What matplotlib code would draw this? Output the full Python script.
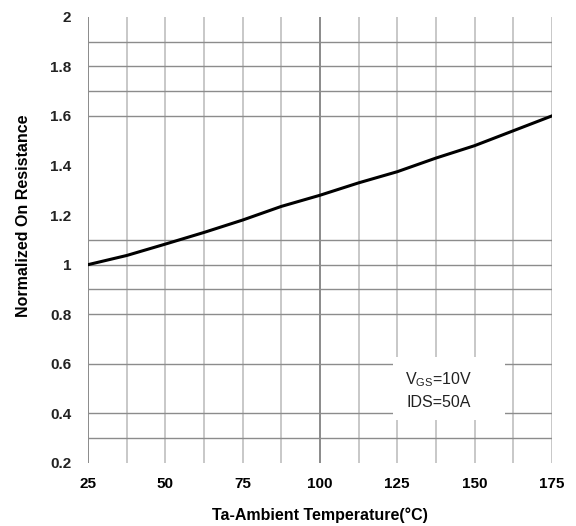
import matplotlib
matplotlib.use("Agg")
import matplotlib.pyplot as plt
from matplotlib.patches import Rectangle

temperature = [25, 37.5, 50, 62.5, 75, 87.5, 100, 112.5, 125, 137.5, 150, 162.5, 175]
norm_ron = [1.0, 1.037, 1.083, 1.13, 1.18, 1.235, 1.28, 1.33, 1.375, 1.43, 1.48, 1.54, 1.6]

x_ticks = [25, 50, 75, 100, 125, 150, 175]
y_ticks = [0.2, 0.4, 0.6, 0.8, 1.0, 1.2, 1.4, 1.6, 1.8, 2.0]
y_tick_labels = ["0.2", "0.4", "0.6", "0.8", "1", "1.2", "1.4", "1.6", "1.8", "2"]
v_grid = [25, 37.5, 50, 62.5, 75, 87.5, 100, 112.5, 125, 137.5, 150, 162.5, 175]
h_grid = [0.3, 0.4, 0.6, 0.8, 0.9, 1.0, 1.1, 1.6, 1.7, 1.8, 1.9]

FONT = "Liberation Sans"

fig = plt.figure(figsize=(5.76, 5.26), dpi=100)
ax = fig.add_axes([0.153, 0.12, 0.805, 0.848])
ax.set_xlim(25, 175)
ax.set_ylim(0.2, 2.0)
for s in ax.spines.values():
    s.set_visible(False)

for xv in v_grid:
    dark = xv in (25, 100)
    ax.axvline(xv, color="#8a8a8a" if dark else "#c4c4c4", lw=1.4 if dark else 1.3, zorder=1)
for yv in h_grid:
    ax.axhline(yv, color="#8c8c8c", lw=1.0, zorder=1)

ax.plot(temperature, norm_ron, color="black", lw=2.2, zorder=3)

ax.set_xticks(x_ticks)
ax.set_xticklabels([str(v) for v in x_ticks], fontfamily=FONT, fontweight="bold", fontsize=11)
ax.set_yticks(y_ticks)
ax.set_yticklabels(y_tick_labels, fontfamily=FONT, fontweight="bold", fontsize=11, color="#222222")
ax.tick_params(axis="x", length=0, pad=10)
ax.tick_params(axis="y", length=0, pad=12)

ax.set_xlabel("Ta-Ambient Temperature(\u00b0C)", fontfamily=FONT, fontweight="bold", fontsize=11.5, labelpad=12)
fig.text(24 / 576, 1 - 216 / 526, "Normalized On Resistance", fontfamily=FONT, fontweight="bold",
         fontsize=11.5, rotation=90, ha="center", va="center")

# white background behind the condition note
ax.add_patch(Rectangle((123.6, 0.373), 36.4, 0.254, facecolor="white", edgecolor="none", zorder=2))
ax.text(138.5, 0.494, "V$_{\\mathregular{GS}}$=10V\nIDS=50A", fontfamily=FONT, fontsize=11.5,
        ha="center", va="center", linespacing=1.45, zorder=4, color="#222222")

fig.savefig("out.png", dpi=100)
